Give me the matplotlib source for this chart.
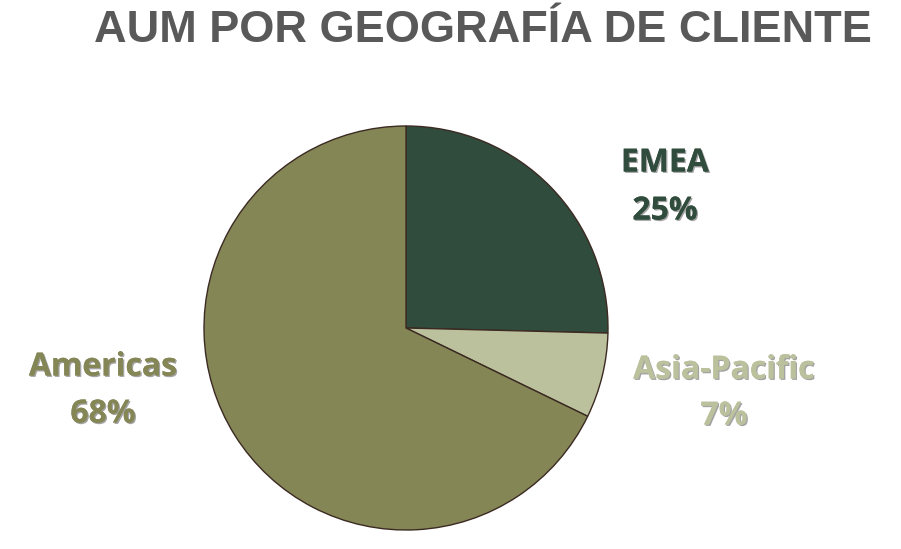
import matplotlib.pyplot as plt
import matplotlib.patheffects as pe

# data
regions = ["EMEA", "Asia-Pacific", "Americas"]
shares = [25.4, 6.8, 67.8]
colors = ["#304C3D", "#BCC19D", "#848656"]

W, H = 901, 549
fig = plt.figure(figsize=(W / 100, H / 100), dpi=100)
fig.patch.set_facecolor("white")

# pie axes: center (406, 328), radius 202 px
cx, cy, r = 406, 328, 202
ax = fig.add_axes([(cx - r) / W, (H - cy - r) / H, 2 * r / W, 2 * r / H])
ax.pie(shares, colors=colors, startangle=90, counterclock=False,
       wedgeprops=dict(edgecolor="#3B2A22", linewidth=1.0), radius=1)
ax.set_xlim(-1, 1)
ax.set_ylim(-1, 1)
ax.set_aspect("equal")
ax.axis("off")

fig.text(483 / W, 1 - 30 / H, "AUM POR GEOGRAFÍA DE CLIENTE", ha="center", va="center",
         fontsize=32.5, fontweight="bold", color="#595959", family="Liberation Sans")

# label positions (pixels)
label_pos = [(665, 163, 211), (724, 370, 416), (103, 367, 414)]
for name, val, col, (x, y1, y2) in zip(regions, shares, colors, label_pos):
    for txt, y in [(name, y1), (f"{val:.0f}%", y2)]:
        t = fig.text(x / W, 1 - y / H, txt, ha="center", va="center", fontsize=23,
                     fontweight="bold", color=col, family="Open Sans")
        t.set_path_effects([pe.withSimplePatchShadow(offset=(1, -1), shadow_rgbFace="#333333", alpha=0.45), pe.Normal()])

fig.savefig("out.png", dpi=100)
